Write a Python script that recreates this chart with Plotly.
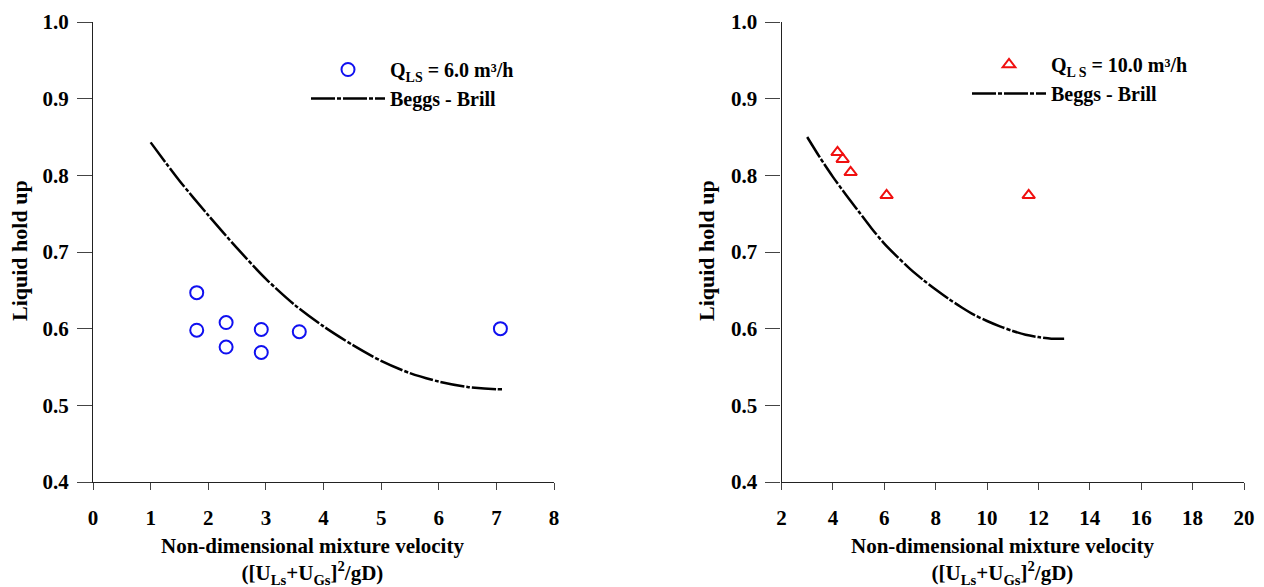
import plotly.graph_objects as go

# Measured liquid hold-up, Q_LS = 6.0 m3/h
vel_6 = [1.80, 1.80, 2.31, 2.31, 2.92, 2.92, 3.58, 7.07]
holdup_6 = [0.647, 0.598, 0.608, 0.576, 0.599, 0.569, 0.596, 0.600]

# Beggs - Brill prediction for Q_LS = 6.0 m3/h
bb_vel_6 = [1.0, 1.5, 2.0, 2.5, 3.0, 3.5, 4.0, 4.5, 5.0, 5.5, 6.0, 6.5, 7.0, 7.1]
bb_holdup_6 = [0.843, 0.793, 0.748, 0.705, 0.665, 0.631, 0.603, 0.579,
               0.558, 0.542, 0.531, 0.524, 0.521, 0.521]

# Measured liquid hold-up, Q_LS = 10.0 m3/h
vel_10 = [4.18, 4.38, 4.69, 6.09, 11.62]
holdup_10 = [0.830, 0.821, 0.804, 0.774, 0.774]

# Beggs - Brill prediction for Q_LS = 10.0 m3/h
bb_vel_10 = [3.0, 3.5, 4.0, 4.5, 5.0, 5.5, 6.0, 6.5, 7.0, 7.5, 8.0, 8.5,
             9.0, 9.5, 10.0, 10.5, 11.0, 11.5, 12.0, 12.5, 13.0]
bb_holdup_10 = [0.850, 0.823, 0.798, 0.775, 0.753, 0.731, 0.711, 0.694,
                0.678, 0.664, 0.651, 0.639, 0.628, 0.618, 0.610, 0.603,
                0.597, 0.592, 0.589, 0.587, 0.587]

# Axis ticks
y_ticks = [0.4, 0.5, 0.6, 0.7, 0.8, 0.9, 1.0]
x_ticks_left = [0, 1, 2, 3, 4, 5, 6, 7, 8]
x_major_left = [0, 2, 4, 6, 8]
x_ticks_right = [2, 4, 6, 8, 10, 12, 14, 16, 18, 20]
x_major_right = [4, 8, 12, 16, 20]

W, H = 1264, 587
FONT = "Liberation Serif"
BB_DASH = "24px,2px,4px,2px"

fig = go.Figure()

fig.add_trace(go.Scatter(
    x=vel_6, y=holdup_6, mode="markers", xaxis="x", yaxis="y",
    name="Q<sub>LS</sub> = 6.0 m³/h", legend="legend",
    marker=dict(symbol="circle-open", size=13, color="#1010f0",
                line=dict(width=2, color="#1010f0")),
))
fig.add_trace(go.Scatter(
    x=bb_vel_6, y=bb_holdup_6, mode="lines", xaxis="x", yaxis="y",
    name="Beggs - Brill", legend="legend",
    line=dict(color="black", width=2.5, dash=BB_DASH, shape="spline", smoothing=0.8),
))
fig.add_trace(go.Scatter(
    x=vel_10, y=holdup_10, mode="markers", xaxis="x2", yaxis="y2",
    name="Q<sub>L S</sub> = 10.0 m³/h", legend="legend2",
    marker=dict(symbol="triangle-up-open", size=11, color="#f01010",
                line=dict(width=2, color="#f01010")),
))
fig.add_trace(go.Scatter(
    x=bb_vel_10, y=bb_holdup_10, mode="lines", xaxis="x2", yaxis="y2",
    name="Beggs - Brill", legend="legend2",
    line=dict(color="black", width=2.5, dash=BB_DASH, shape="spline", smoothing=0.8),
))

left_dom = [93 / W, 554 / W]
right_dom = [781.5 / W, 1244 / W]
y_dom = [(H - 482) / H, (H - 22) / H]

tick_font = dict(family=FONT, size=21, color="black", weight="bold")
axis_common = dict(showgrid=False, zeroline=False, showline=True,
                   linecolor="#222", linewidth=1.2, ticks="outside",
                   tickcolor="#444", tickwidth=1.2, tickfont=tick_font)
legend_font = dict(family=FONT, size=20, color="black", weight="bold")

fig.update_layout(
    width=W, height=H,
    margin=dict(l=0, r=0, t=0, b=0, autoexpand=False),
    paper_bgcolor="white", plot_bgcolor="white",
    showlegend=True,
    xaxis=dict(domain=left_dom, anchor="y", range=[0, 8], tickvals=x_ticks_left,
               ticklen=7, ticklabelstandoff=10, **axis_common),
    yaxis=dict(domain=y_dom, anchor="x", range=[0.4, 1.0], tickvals=y_ticks,
               tickformat=".1f", ticklen=15, ticklabelstandoff=4, **axis_common),
    xaxis3=dict(overlaying="x", anchor="y", range=[0, 8], tickvals=x_major_left,
                ticks="outside", ticklen=15, tickcolor="#444", tickwidth=1.2,
                showticklabels=False, showline=False, showgrid=False, zeroline=False),
    xaxis2=dict(domain=right_dom, anchor="y2", range=[2, 20], tickvals=x_ticks_right,
                ticklen=7, ticklabelstandoff=10, **axis_common),
    yaxis2=dict(domain=y_dom, anchor="x2", range=[0.4, 1.0], tickvals=y_ticks,
                tickformat=".1f", ticklen=15, ticklabelstandoff=4, **axis_common),
    xaxis4=dict(overlaying="x2", anchor="y2", range=[2, 20], tickvals=x_major_right,
                ticks="outside", ticklen=15, tickcolor="#444", tickwidth=1.2,
                showticklabels=False, showline=False, showgrid=False, zeroline=False),
    legend=dict(x=306 / W, y=(H - 50) / H, xanchor="left", yanchor="top",
                bgcolor="rgba(0,0,0,0)", itemwidth=74, tracegroupgap=2,
                font=legend_font),
    legend2=dict(x=967 / W, y=(H - 45) / H, xanchor="left", yanchor="top",
                 bgcolor="rgba(0,0,0,0)", itemwidth=74, tracegroupgap=2,
                 font=legend_font),
)

x_title_font = dict(family=FONT, size=21, color="black", weight="bold")
y_title_font = dict(family=FONT, size=22, color="black", weight="bold")
x_title = "Non-dimensional mixture velocity<br>([U<sub>Ls</sub>+U<sub>Gs</sub>]<sup>2</sup>/gD)"
for cx in (312, 1002):
    fig.add_annotation(text=x_title, x=cx / W, y=(H - 561) / H, xref="paper", yref="paper",
                       xanchor="center", yanchor="middle", showarrow=False,
                       font=x_title_font, align="center")
for cx in (19, 706):
    fig.add_annotation(text="Liquid hold up", x=cx / W, y=(H - 251) / H,
                       xref="paper", yref="paper", xanchor="center", yanchor="middle",
                       textangle=-90, showarrow=False, font=y_title_font)

fig.write_html("out.html")
